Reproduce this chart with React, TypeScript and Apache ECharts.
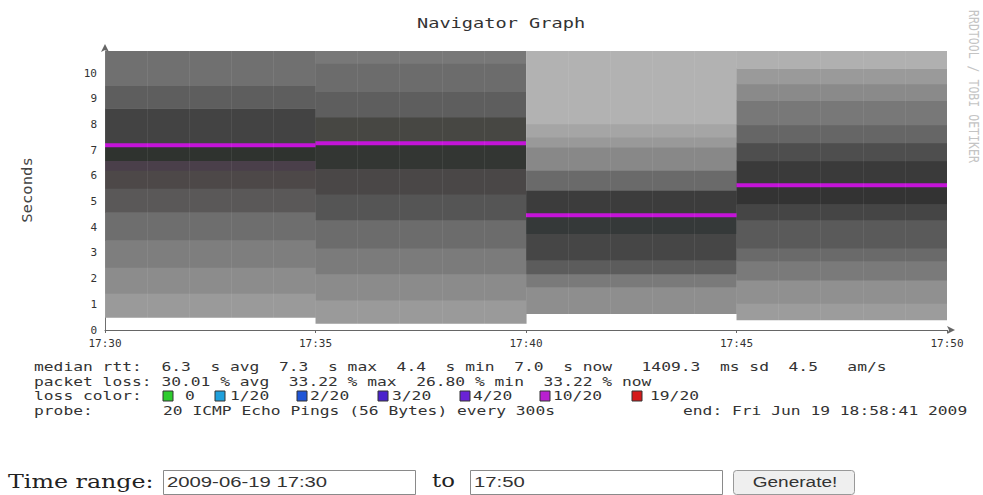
import React, { useEffect, useRef } from "react";
import * as echarts from "echarts";

// ---------- data ----------
const X_LABELS = ["17:30", "17:35", "17:40", "17:45", "17:50"];
const COL_START = [0, 5, 10, 15]; // minutes after 17:30
const COL_SPAN = 5;
const Y_MAX = 10.87;

// smoke band boundaries (seconds) for each 5-minute step, bottom to top
const BOUNDS_1 = [0.5, 1.44, 2.45, 3.5, 4.59, 5.53, 6.23, 6.61, 7.2, 8.64, 9.53, 11];
const COLORS_1 = ["#9a9a9a", "#8c8c8c", "#7e7e7e", "#6e6e6e", "#5a5858", "#4d4848", "#4a3f4a", "#2f332f", "#434343", "#5e5e5e", "#707070"];
const BOUNDS_2 = [0.27, 1.17, 2.2, 3.2, 4.3, 5.3, 6.3, 7.28, 8.3, 9.3, 10.4, 11];
const COLORS_2 = ["#9a9a9a", "#8b8b8b", "#7b7b7b", "#6c6c6c", "#555555", "#4a4747", "#333633", "#474743", "#5e5e5e", "#6c6c6c", "#787878"];
const BOUNDS_3 = [0.65, 1.69, 2.2, 2.72, 3.76, 4.47, 5.45, 6.23, 7.13, 7.52, 8.04, 11];
const COLORS_3 = ["#8e8e8e", "#7a7a7a", "#5c5c5c", "#464646", "#353939", "#3c3c3c", "#6a6a6a", "#888888", "#999999", "#a5a5a5", "#b2b2b2"];
const BOUNDS_4 = [0.4, 1.05, 1.95, 2.7, 3.2, 4.3, 4.9, 5.64, 6.6, 7.3, 8.0, 8.95, 9.6, 10.2, 11];
const COLORS_4 = ["#9c9c9c", "#909090", "#7a7a7a", "#6a6a6a", "#5a5a5a", "#454545", "#333333", "#3a3a3a", "#4e4e4e", "#666666", "#787878", "#8a8a8a", "#9a9a9a", "#b0b0b0"];
const MEDIAN_RTT = [7.2, 7.28, 4.47, 5.64];

const LEGEND_LINES = [
  "median rtt:  6.3  s avg  7.3  s max  4.4  s min  7.0  s now   1409.3  ms sd  4.5   am/s",
  "packet loss: 30.01 % avg  33.22 % max  26.80 % min  33.22 % now",
];
const LOSS_LABEL = "loss color:";
const LOSS_LEVELS = ["0", "1/20", "2/20", "3/20", "4/20", "10/20", "19/20"];
const LOSS_COLORS = ["#2ecc2e", "#1fa0dc", "#1f55d6", "#4a22cc", "#6a22d6", "#b820d0", "#d41a1a"];
const PROBE_LABEL = "probe:";
const PROBE_TEXT = "20 ICMP Echo Pings (56 Bytes) every 300s";
const END_TEXT = "end: Fri Jun 19 18:58:41 2009";

// ---------- layout ----------
const LOSS_BOX_X = [163, 215, 297, 378, 460, 540, 632];
const LOSS_TEXT_X = [185, 230, 310, 392, 473, 553, 650];
const MONO = "DejaVu Sans Mono";
const SX = 1.357;

function buildSmoke() {
  const all = [
    [BOUNDS_1, COLORS_1],
    [BOUNDS_2, COLORS_2],
    [BOUNDS_3, COLORS_3],
    [BOUNDS_4, COLORS_4],
  ];
  const data: number[][] = [];
  const colors: string[] = [];
  all.forEach(([b, c], i) => {
    for (let j = 0; j < (c as string[]).length; j++) {
      data.push([COL_START[i], COL_START[i] + COL_SPAN, (b as number[])[j], (b as number[])[j + 1]]);
      colors.push((c as string[])[j]);
    }
  });
  return { data, colors };
}

export default function App() {
  const ref = useRef<HTMLDivElement>(null);
  useEffect(() => {
    if (!ref.current) return;
    const chart = echarts.init(ref.current, null, { renderer: "svg" });
    const smoke = buildSmoke();
    const medianData = MEDIAN_RTT.map((m, i) => [COL_START[i], COL_START[i] + COL_SPAN, m]);

    const txt = (x: number, y: number, text: string, extra: any = {}) => ({
      type: "text",
      x,
      y,
      scaleX: SX,
      silent: true,
      style: {
        text,
        fontFamily: MONO,
        fontSize: 12,
        fill: "#333",
        verticalAlign: "middle",
        align: "left",
        ...extra,
      },
    });

    const graphics: any[] = [
      {
        type: "text",
        x: 417,
        y: 23,
        scaleX: 1.33,
        style: { text: "Navigator Graph", fontFamily: MONO, fontSize: 14, fill: "#333", verticalAlign: "middle" },
      },
      {
        type: "text",
        x: 27,
        y: 190,
        rotation: Math.PI / 2,
        scaleX: 1.3,
        scaleY: 1.2,
        style: { text: "Seconds", fontFamily: MONO, fontSize: 12, fill: "#444", align: "center", verticalAlign: "middle" },
      },
      {
        type: "text",
        x: 974,
        y: 10,
        rotation: -Math.PI / 2,
        scaleX: 1.05,
        scaleY: 1.3,
        style: { text: "RRDTOOL / TOBI OETIKER", fontFamily: MONO, fontSize: 11, fill: "#c4c4c4", align: "left", verticalAlign: "middle" },
      },
      txt(34, 367, LEGEND_LINES[0]),
      txt(34, 382, LEGEND_LINES[1]),
      txt(34, 396, LOSS_LABEL),
      txt(34, 411, PROBE_LABEL),
      txt(163, 411, PROBE_TEXT),
      txt(683, 411, END_TEXT),
    ];
    LOSS_LEVELS.forEach((lv, i) => {
      graphics.push({
        type: "rect",
        shape: { x: LOSS_BOX_X[i], y: 391, width: 10, height: 10 },
        style: { fill: LOSS_COLORS[i], stroke: "#333", lineWidth: 1 },
      });
      graphics.push(txt(LOSS_TEXT_X[i], 396, lv));
    });

    // form row
    graphics.push(
      {
        type: "text",
        x: 8,
        y: 481,
        scaleX: 1.25,
        style: { text: "Time range:", fontFamily: "DejaVu Serif", fontSize: 19, fill: "#222", verticalAlign: "middle" },
      },
      {
        type: "rect",
        shape: { x: 163.5, y: 470.5, width: 252, height: 24 },
        style: { fill: "#fff", stroke: "#8a8a8a", lineWidth: 1 },
      },
      {
        type: "text",
        x: 167,
        y: 482,
        scaleX: 1.4,
        style: { text: "2009-06-19 17:30", fontFamily: "Liberation Sans", fontSize: 14.5, fill: "#333", verticalAlign: "middle" },
      },
      {
        type: "text",
        x: 432,
        y: 481,
        scaleX: 1.2,
        style: { text: "to", fontFamily: "DejaVu Serif", fontSize: 19, fill: "#222", verticalAlign: "middle" },
      },
      {
        type: "rect",
        shape: { x: 470.5, y: 470.5, width: 252, height: 24 },
        style: { fill: "#fff", stroke: "#8a8a8a", lineWidth: 1 },
      },
      {
        type: "text",
        x: 474,
        y: 482,
        scaleX: 1.4,
        style: { text: "17:50", fontFamily: "Liberation Sans", fontSize: 14.5, fill: "#333", verticalAlign: "middle" },
      },
      {
        type: "rect",
        shape: { x: 733.5, y: 470.5, width: 121, height: 24, r: 3 },
        style: { fill: "#efefef", stroke: "#999", lineWidth: 1 },
      },
      {
        type: "text",
        x: 795,
        y: 482,
        scaleX: 1.27,
        style: { text: "Generate!", fontFamily: "Liberation Sans", fontSize: 15, fill: "#333", align: "center", verticalAlign: "middle" },
      }
    );

    chart.setOption({
      animation: false,
      textStyle: { fontFamily: MONO },
      grid: { left: 105, right: 36, top: 51, bottom: 165, containLabel: false },
      xAxis: {
        type: "value",
        min: 0,
        max: 20,
        interval: 5,
        z: 3,
        axisLine: {
          show: true,
          lineStyle: { color: "#666", width: 1 },
          symbol: ["none", "arrow"],
          symbolSize: [6, 8],
          symbolOffset: [0, 8],
        },
        axisTick: { show: true, length: 3, lineStyle: { color: "#666" } },
        axisLabel: {
          fontFamily: MONO,
          fontSize: 11,
          color: "#333",
          margin: 8,
          formatter: (v: number) => X_LABELS[Math.round(v / COL_SPAN)] ?? "",
        },
        splitLine: { show: true, lineStyle: { color: "rgba(255,255,255,0.06)" } },
        minorTick: { show: false, splitNumber: 5 },
        minorSplitLine: { show: true, lineStyle: { color: "rgba(255,255,255,0.07)" } },
      },
      yAxis: {
        type: "value",
        min: 0,
        max: Y_MAX,
        interval: 1,
        axisLine: {
          show: true,
          lineStyle: { color: "#666", width: 1 },
          symbol: ["none", "arrow"],
          symbolSize: [6, 8],
          symbolOffset: [0, 7],
        },
        axisTick: { show: false },
        axisLabel: { fontFamily: MONO, fontSize: 11, color: "#333", margin: 8, showMaxLabel: false },
        splitLine: { show: false },
      },
      series: [
        {
          type: "custom",
          name: "smoke",
          clip: true,
          z: 1,
          data: smoke.data,
          renderItem: (params: any, api: any) => {
            const p0 = api.coord([api.value(0), api.value(3)]);
            const p1 = api.coord([api.value(1), api.value(2)]);
            return {
              type: "rect",
              shape: { x: p0[0], y: p0[1], width: p1[0] - p0[0] + 0.6, height: p1[1] - p0[1] + 0.6 },
              style: { fill: smoke.colors[params.dataIndex] },
            };
          },
        },
        {
          type: "custom",
          name: "median rtt",
          clip: true,
          z: 2,
          data: medianData,
          renderItem: (_params: any, api: any) => {
            const p0 = api.coord([api.value(0), api.value(2)]);
            const p1 = api.coord([api.value(1), api.value(2)]);
            return {
              type: "line",
              shape: { x1: p0[0], y1: p0[1], x2: p1[0], y2: p1[1] },
              style: { stroke: "#c414d8", lineWidth: 4 },
            };
          },
        },
      ],
      graphic: graphics,
    });
    return () => chart.dispose();
  }, []);
  return (
    <div
      ref={ref}
      style={{ position: "fixed", left: 0, top: 0, width: 983, height: 495, background: "#fff" }}
    />
  );
}
